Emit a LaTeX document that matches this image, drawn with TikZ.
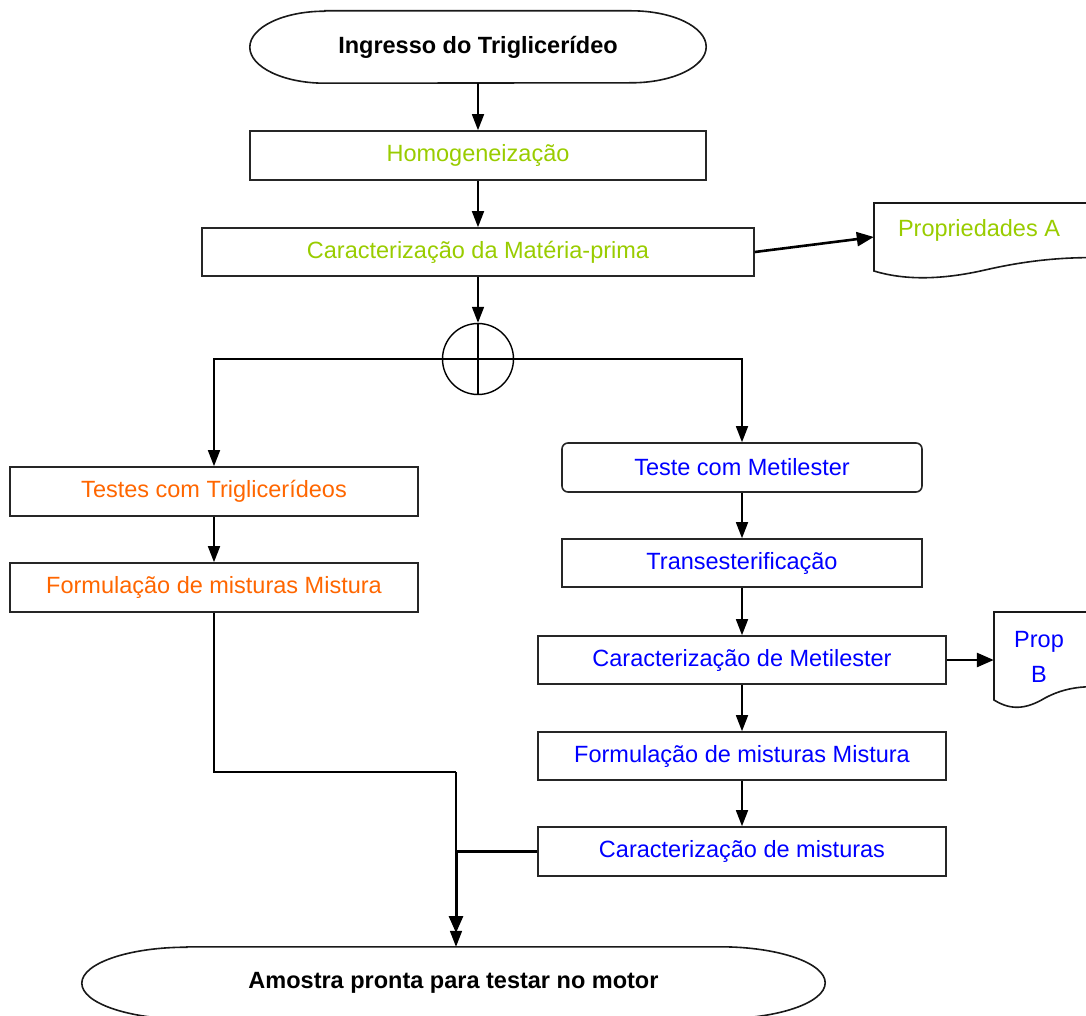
\documentclass[tikz,border=0pt]{standalone}
\usepackage{fontspec}
\setmainfont{Liberation Sans}
\usetikzlibrary{arrows.meta}
\definecolor{cgreen}{RGB}{153,204,0}
\definecolor{corange}{RGB}{255,102,0}
\definecolor{cblue}{RGB}{0,0,255}
\begin{document}
\begin{tikzpicture}[x=1pt,y=-1pt,
  font=\fontsize{23.5}{28}\selectfont,
  box/.style={draw=black!85,line width=1.6pt,minimum width=#1,minimum height=49pt,inner sep=0pt},
  ghost/.style={draw=none,inner sep=0pt},
  outline/.style={draw=black!90,line width=1.6pt},
  conn/.style={draw=black,line width=1.6pt},
  heavy/.style={draw=black,line width=3pt},
  tip/.style={-{Triangle[length=16pt,width=12pt]}},
  bigtip/.style={-{Triangle[length=17pt,width=14pt]}},
]
\useasboundingbox (0,0) rectangle (1086,1016);
\clip (0,0) rectangle (1086,1016);

% start terminal
\node[ghost,minimum width=456pt,minimum height=72pt] (start) at (478,47) {\bfseries Ingresso do Triglicerídeo};
\draw[outline] ([xshift=75pt]start.north west) -- ([xshift=-75pt]start.north east)
  arc[start angle=-90,end angle=90,x radius=75,y radius=36]
  -- ([xshift=75pt]start.south west)
  arc[start angle=90,end angle=270,x radius=75,y radius=36] -- cycle;

\node[box=456pt,text=cgreen] (homog) at (478,155.5) {Homogeneização};
\node[box=552pt,minimum height=48pt,text=cgreen] (caract) at (478,252) {Caracterização da Matéria-prima};

% document A
\node[ghost,minimum width=226pt,minimum height=68pt] (docA) at (987,237) {};
\draw[outline] (874,271) -- (874,203) -- (1110,203) -- (1110,258)
  .. controls (1060,256) and (1020,262) .. (985,270)
  .. controls (950,278) and (910,282) .. cycle;
\node[ghost,text=cgreen] (docAtext) at (979,230) {Propriedades A};

% junction
\node[draw=black,line width=1.4pt,circle,minimum size=71pt,inner sep=0pt] (junc) at (478,359) {};

% left column
\node[box=408pt,text=corange] (testes) at (214,491.5) {Testes com Triglicerídeos};
\node[box=408pt,text=corange] (formL) at (214,587.5) {Formulação de misturas Mistura};

% right column
\node[box=360pt,rounded corners=6pt,text=cblue] (metil) at (742,467.5) {Teste com Metilester};
\node[box=360pt,minimum height=48pt,text=cblue] (trans) at (742,563) {Transesterificação};
\node[box=408pt,minimum height=48pt,text=cblue] (cmet) at (742,660) {Caracterização de Metilester};
\node[box=408pt,minimum height=48pt,text=cblue] (formR) at (742,756) {Formulação de misturas Mistura};
\node[box=408pt,text=cblue] (cmix) at (742,851.5) {Caracterização de misturas};

% document B
\node[ghost,minimum width=116pt,minimum height=88pt] (docB) at (1052,660) {};
\draw[outline] (994,700) -- (994,612) -- (1110,612) -- (1110,688)
  .. controls (1080,684) and (1060,690) .. (1045,698)
  .. controls (1025,710) and (1010,710) .. cycle;
\begin{scope}
  \clip (990,600) rectangle (1090,683);
  \node[ghost,text=cblue,align=center,font=\fontsize{23.5}{35}\selectfont] (docBtext) at (1039,657) {Prop\\B};
\end{scope}

% end terminal
\node[ghost,minimum width=743pt,minimum height=72pt] (endn) at (453.5,983) {\bfseries Amostra pronta para testar no motor};
\draw[outline] ([xshift=105pt]endn.north west) -- ([xshift=-105pt]endn.north east)
  arc[start angle=-90,end angle=90,x radius=105,y radius=36]
  -- ([xshift=105pt]endn.south west)
  arc[start angle=90,end angle=270,x radius=105,y radius=36] -- cycle;

% connectors
\draw[conn,tip] (start.south) -- (homog.north);
\draw[conn,tip] (homog.south) -- (caract.north);
\draw[heavy,bigtip,line width=2.6pt] (caract.east) -- (docA.west);
\draw[conn,tip] (caract.south) -- (junc.north);
\draw[conn] (junc.north) -- (junc.south);
\draw[conn,line width=2.2pt] (junc.center) -| ([yshift=20pt]testes.north);
\draw[conn,line width=2.2pt] (junc.center) -| ([yshift=20pt]metil.north);
\draw[conn,tip] ([yshift=22pt]testes.north) -- (testes.north);
\draw[conn,tip] ([yshift=22pt]metil.north) -- (metil.north);
\draw[conn,tip] (testes.south) -- (formL.north);
\draw[conn,tip] (metil.south) -- (trans.north);
\draw[conn,tip] (trans.south) -- (cmet.north);
\draw[heavy,bigtip,line width=2.6pt] (cmet.east) -- (docB.west);
\draw[conn,tip] (cmet.south) -- (formR.north);
\draw[conn,tip] (formR.south) -- (cmix.north);

\coordinate (bend) at (456,772);
\coordinate (tip2) at (456,933);
\draw[conn] (formL.south) |- (bend);
\draw[conn,tip] (bend) -- (bend |- endn.north);
\draw[heavy,bigtip] (cmix.west) -| (tip2);
\end{tikzpicture}
\end{document}
